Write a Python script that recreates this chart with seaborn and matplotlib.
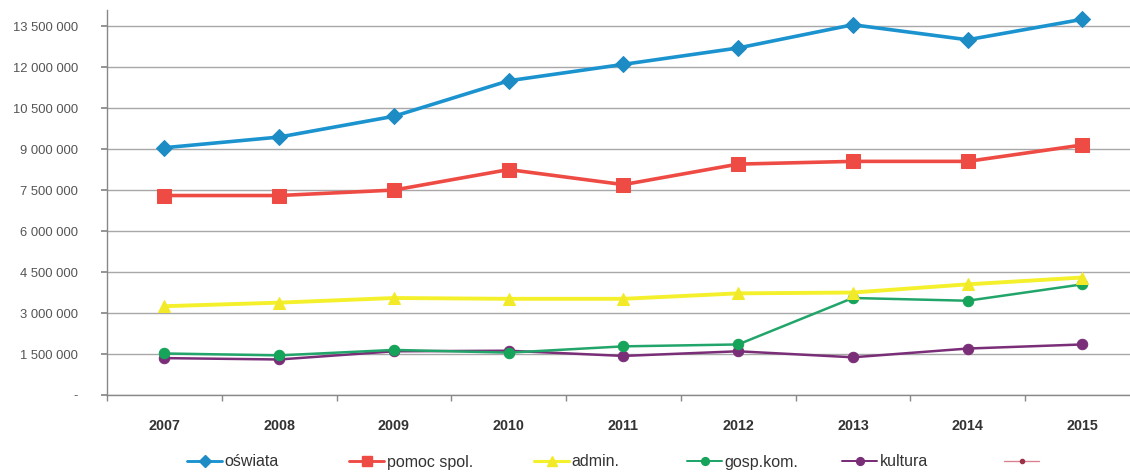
import numpy as np
import pandas as pd
import matplotlib
matplotlib.use("Agg")
import matplotlib.pyplot as plt
import seaborn as sns
from matplotlib.lines import Line2D
from matplotlib.ticker import FuncFormatter, FixedLocator

years = ["2007", "2008", "2009", "2010", "2011", "2012", "2013", "2014", "2015"]
oswiata = [9.05e6, 9.44e6, 10.2e6, 11.5e6, 12.1e6, 12.7e6, 13.55e6, 13.0e6, 13.75e6]
pomoc_spol = [7.3e6, 7.3e6, 7.5e6, 8.25e6, 7.7e6, 8.45e6, 8.55e6, 8.55e6, 9.15e6]
admin = [3.25e6, 3.38e6, 3.55e6, 3.52e6, 3.52e6, 3.72e6, 3.75e6, 4.05e6, 4.3e6]
gosp_kom = [1.52e6, 1.45e6, 1.65e6, 1.55e6, 1.78e6, 1.85e6, 3.55e6, 3.45e6, 4.05e6]
kultura = [1.35e6, 1.3e6, 1.6e6, 1.62e6, 1.43e6, 1.6e6, 1.38e6, 1.7e6, 1.85e6]
labels = ["oświata", "pomoc spol.", "admin.", "gosp.kom.", "kultura", ""]
yticks = [0, 1.5e6, 3.0e6, 4.5e6, 6.0e6, 7.5e6, 9.0e6, 10.5e6, 12.0e6, 13.5e6]

series = [oswiata, pomoc_spol, admin, gosp_kom, kultura]
colors = ["#1b93cf", "#ef4b45", "#f4f02c", "#22a56a", "#7a2e78", "#9c3148"]
mcolors = ["#1e8cc4", "#ef4b45", "#f2ea28", "#16a35a", "#7a2e78", "#9c3148"]
markers = ["D", "s", "^", "o", "o", "o"]
msizes = [8, 10, 9, 7.5, 7.5, 4]
lws = [2.6, 2.6, 2.8, 1.8, 1.8, 1.2]

sns.set_theme(style="white")
plt.rcParams["font.family"] = ["Liberation Sans", "DejaVu Sans"]

fig = plt.figure(figsize=(11.3, 4.74), dpi=100)
ax = fig.add_axes([107 / 1130, 79 / 474, 1023 / 1130, 385 / 474])

x = np.arange(len(years))
for i, vals in enumerate(series):
    sns.lineplot(x=x, y=vals, ax=ax, color=colors[i], lw=lws[i], marker=markers[i],
                 markersize=msizes[i], markerfacecolor=mcolors[i], markeredgecolor=mcolors[i],
                 zorder=5 - i * 0.1, legend=False)

ax.set_xlim(-0.5, 8.415)
ax.set_ylim(0, 14.09e6)
ax.yaxis.set_major_locator(FixedLocator(yticks))
ax.yaxis.set_major_formatter(FuncFormatter(lambda v, p: "-" if v == 0 else f"{v:,.0f}".replace(",", " ")))
ax.grid(axis="y", color="#a8a8a8", lw=1.0)
ax.set_axisbelow(True)

ax.set_xticks(x)
ax.set_xticklabels(years, fontweight="bold", fontsize=10.3, color="#333333")
ax.xaxis.set_minor_locator(FixedLocator(np.arange(-0.5, 9, 1.0)))
ax.tick_params(axis="x", which="major", length=0, pad=17)
ax.tick_params(axis="x", which="minor", length=4, color="#888888", direction="out", bottom=True)
ax.tick_params(axis="y", length=4, color="#888888", direction="out", left=True, pad=17,
               labelsize=9.4, labelcolor="#555555")

for s in ["top", "right"]:
    ax.spines[s].set_visible(False)
for s in ["left", "bottom"]:
    ax.spines[s].set_color("#888888")
    ax.spines[s].set_linewidth(1.0)
ax.set_xlabel("")
ax.set_ylabel("")

# legend, one entry per fixed position
lx = [187, 349, 534, 687, 842, 1004]
for i, lab in enumerate(labels):
    lcol = colors[i] if i < 5 else "#d9808e"
    h = Line2D([], [], color=lcol, lw=lws[i] * 0.8, marker=markers[i],
               markersize=msizes[i] * 0.75, markerfacecolor=mcolors[i], markeredgecolor=mcolors[i])
    fig.legend(handles=[h], labels=[lab], loc="center left",
               bbox_to_anchor=(lx[i] / 1130, 1 - 462 / 474), frameon=False,
               handlelength=2.2, handletextpad=0.15, fontsize=11.5,
               labelcolor="#333333", borderaxespad=0, borderpad=0)

fig.savefig("out.png", dpi=100, facecolor="white")
